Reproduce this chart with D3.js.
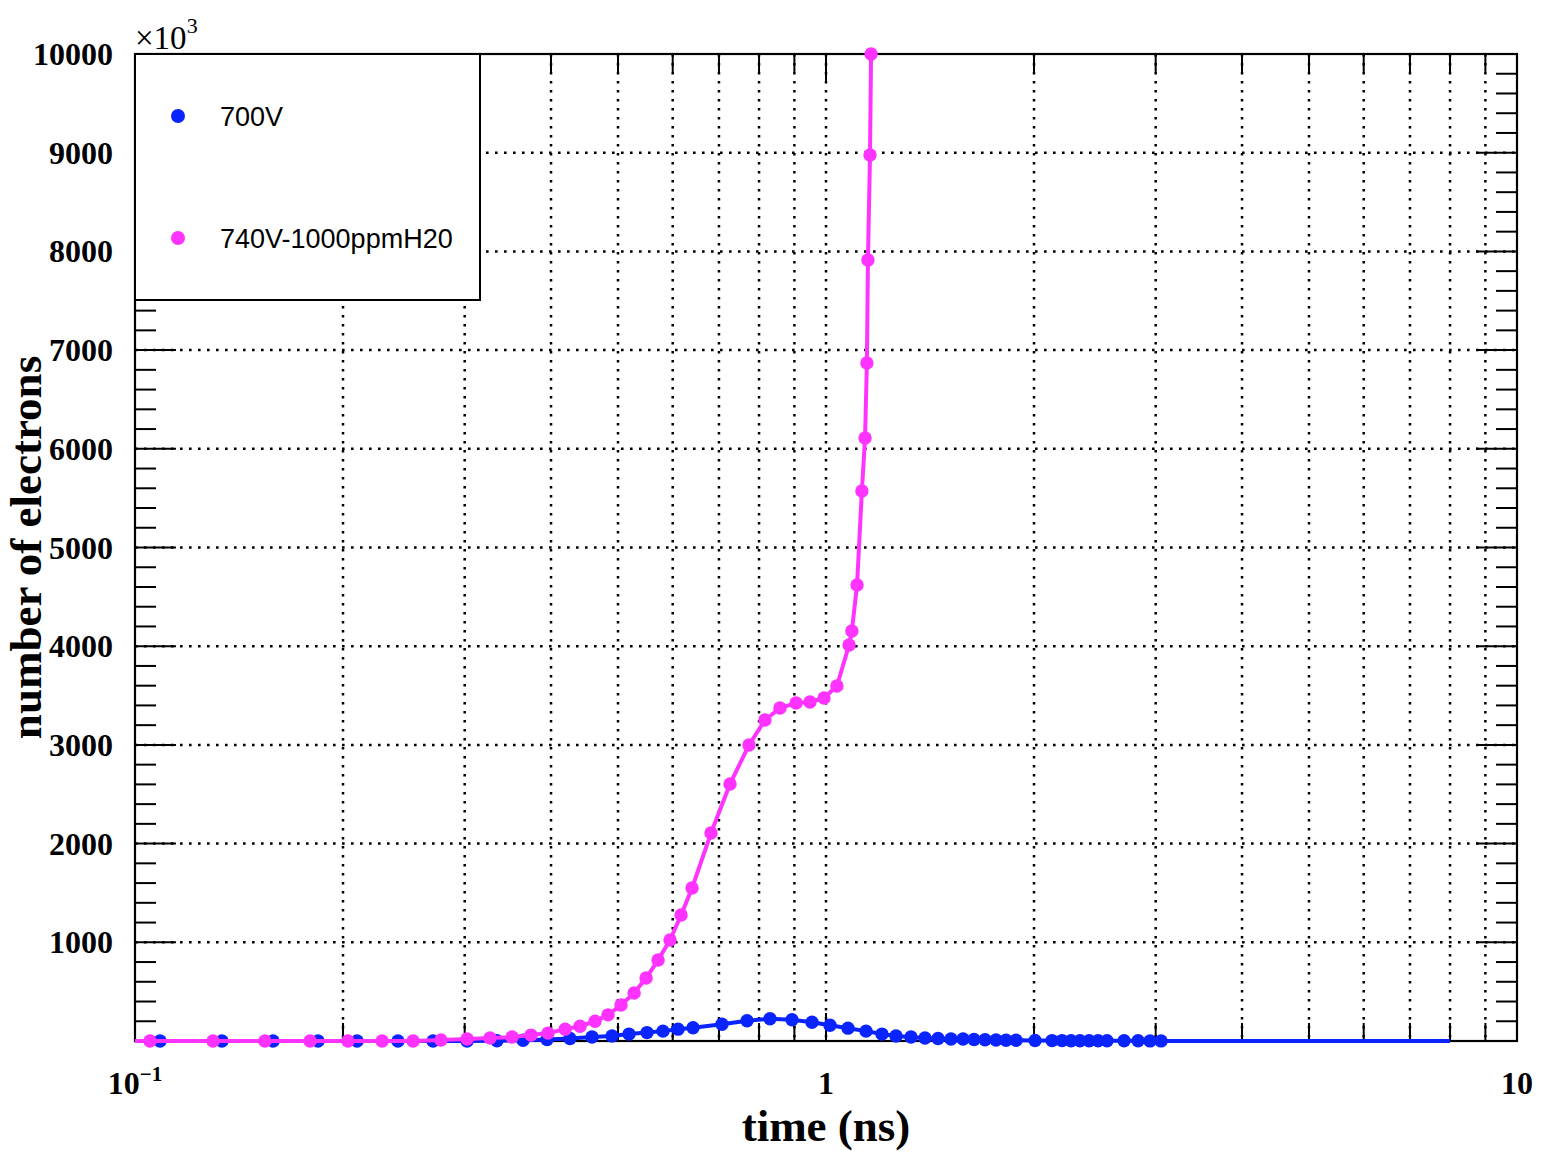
<!DOCTYPE html>
<html>
<head>
<meta charset="utf-8">
<script src="https://cdn.jsdelivr.net/npm/d3@7"></script>
<style>
  body { margin: 0; background: #fff; }
  .tick-label { font-family: "Liberation Serif", serif; font-weight: bold; font-size: 32px; fill: #000; }
  .axis-title { font-family: "Liberation Serif", serif; font-weight: bold; font-size: 45px; fill: #000; }
  .legend-text { font-family: "Liberation Sans", Arial, sans-serif; font-size: 27px; fill: #000; }
  .grid { stroke: #000; stroke-width: 2.5; stroke-dasharray: 2.6 6.4; }
</style>
</head>
<body>
<div class="chart"></div>
<script>
// values, counts in units of 10^3
var blueTime = [0.08, 0.1087, 0.1336, 0.1584, 0.184, 0.2096, 0.2402, 0.27, 0.3024, 0.3341, 0.3644, 0.3947, 0.4261,
    0.4585, 0.4902, 0.5187, 0.5508, 0.5808, 0.6107, 0.6421, 0.7071, 0.7686, 0.8298, 0.8929, 0.9544, 1.0134, 1.076,
    1.1427, 1.205, 1.2627, 1.3274, 1.3908, 1.4525, 1.5168, 1.5788, 1.6377, 1.699, 1.762, 1.822, 1.884, 2.007, 2.124,
    2.196, 2.263, 2.331, 2.403, 2.476, 2.551, 2.7, 2.829, 2.944, 3.054]
var blueCount = [0, 0, 0, 0, 0, 0, 0, 0, 0, 3, 8, 15, 25,
    40, 50, 70, 85, 100, 120, 135, 170, 205, 225, 215, 190, 160, 130,
    100, 70, 50, 40, 30, 25, 20, 20, 15, 12, 10, 8, 7, 5, 4,
    4, 3, 3, 3, 2, 2, 2, 2, 1, 1]
// the blue line runs on past its last marker
var blueTailTime = [8.0]
var blueTailCount = [0]

var pinkTime = [0.08, 0.1051, 0.1297, 0.1542, 0.1792, 0.2033, 0.2278, 0.2526, 0.2772, 0.3024, 0.3264, 0.3513, 0.3742,
    0.396, 0.4193, 0.4406, 0.4632, 0.4836, 0.5051, 0.5276, 0.549, 0.5715, 0.5947, 0.617, 0.64, 0.6817, 0.7263, 0.7737,
    0.816, 0.8578, 0.905, 0.9481, 0.9934, 1.037, 1.08, 1.09, 1.109, 1.127, 1.139, 1.146, 1.15, 1.158, 1.162]
var pinkCount = [0, 0, 0, 0, 0, 0, 0, 0, 10, 20, 30, 40, 60,
    80, 120, 150, 200, 265, 365, 486, 638, 820, 1023, 1277, 1550, 2107, 2604, 2999,
    3252, 3374, 3424, 3435, 3475, 3597, 4012, 4154, 4620, 5572, 6109, 6869, 7913, 8977, 10000]

var seriesNames = ["700V", "740V-1000ppmH20"]
var seriesColors = ["#0a24ff", "#ff33ff"]

var yMajorTicks = [1000, 2000, 3000, 4000, 5000, 6000, 7000, 8000, 9000, 10000]
var xMinorTicks = [0.2, 0.3, 0.4, 0.5, 0.6, 0.7, 0.8, 0.9, 2, 3, 4, 5, 6, 7, 8, 9]
var xMajorTicks = [1]
var xLabelValues = [0.1, 1, 10]
var xLabelBase = ["10", "1", "10"]
var xLabelExp = ["\u22121", "", ""]

var W = 1550, H = 1154
var margin = {top: 54, right: 33, bottom: 113, left: 135}
var width = W - margin.left - margin.right
var height = H - margin.top - margin.bottom

var xScale = d3.scaleLog().domain([0.1, 10]).range([0, width])
var yScale = d3.scaleLinear().domain([0, 10000]).range([height, 0])

var svg = d3.select(".chart")
    .append("svg")
        .attr("width", W)
        .attr("height", H)

svg.append("rect").attr("width", W).attr("height", H).attr("fill", "#fff")

var g = svg.append("g")
    .attr("transform", "translate(" + margin.left + "," + margin.top + ")")

g.append("clipPath").attr("id", "plot-clip")
  .append("rect")
    .attr("x", 0).attr("y", -8)
    .attr("width", width).attr("height", height + 16)

// grid
g.selectAll(".vgrid")
    .data(xMinorTicks.concat(xMajorTicks))
    .enter().append("line")
    .attr("class", "grid")
    .attr("x1", d => xScale(d)).attr("x2", d => xScale(d))
    .attr("y1", 0).attr("y2", height)

g.selectAll(".hgrid")
    .data(yMajorTicks.slice(0, -1))
    .enter().append("line")
    .attr("class", "grid")
    .attr("x1", 0).attr("x2", width)
    .attr("y1", d => yScale(d)).attr("y2", d => yScale(d))

// ticks on all four sides, pointing inward
var yMinor = d3.range(200, 10000, 200).filter(d => d % 1000 != 0)
function drawYTicks(list, len) {
    g.selectAll(null).data(list).enter().append("line")
        .attr("x1", 0).attr("x2", len)
        .attr("y1", d => yScale(d)).attr("y2", d => yScale(d))
        .attr("stroke", "#000").attr("stroke-width", 2)
    g.selectAll(null).data(list).enter().append("line")
        .attr("x1", width).attr("x2", width - len)
        .attr("y1", d => yScale(d)).attr("y2", d => yScale(d))
        .attr("stroke", "#000").attr("stroke-width", 2)
}
drawYTicks(yMajorTicks, 41)
drawYTicks(yMinor, 21)

function drawXTicks(list, len) {
    g.selectAll(null).data(list).enter().append("line")
        .attr("x1", d => xScale(d)).attr("x2", d => xScale(d))
        .attr("y1", height).attr("y2", height - len)
        .attr("stroke", "#000").attr("stroke-width", 2)
    g.selectAll(null).data(list).enter().append("line")
        .attr("x1", d => xScale(d)).attr("x2", d => xScale(d))
        .attr("y1", 0).attr("y2", len)
        .attr("stroke", "#000").attr("stroke-width", 2)
}
drawXTicks(xMinorTicks, 18)
drawXTicks(xMajorTicks, 28)

g.append("rect")
    .attr("width", width).attr("height", height)
    .attr("fill", "none").attr("stroke", "#000").attr("stroke-width", 2.2)

// tick labels
g.selectAll(".ylab")
    .data(yMajorTicks)
    .enter().append("text")
    .attr("class", "tick-label")
    .attr("x", -22)
    .attr("y", d => yScale(d) + 11)
    .attr("text-anchor", "end")
    .text(d => d)

var xl = g.selectAll(".xlab")
    .data(xLabelValues)
    .enter().append("text")
    .attr("class", "tick-label")
    .attr("x", d => xScale(d))
    .attr("y", height + 53)
    .attr("text-anchor", "middle")
xl.append("tspan").text((d, i) => xLabelBase[i])
xl.append("tspan")
    .attr("dy", -13)
    .attr("font-size", 21)
    .text((d, i) => xLabelExp[i])

var mult = g.append("text")
    .attr("x", 0).attr("y", -5)
    .style("font-family", "Liberation Serif, serif")
    .style("font-size", "33px")
mult.append("tspan").text("\u00d710")
mult.append("tspan").attr("dy", -16).attr("font-size", 22).text("3")

// axis titles
g.append("text")
    .attr("class", "axis-title")
    .attr("x", xScale(1))
    .attr("y", height + 100)
    .attr("text-anchor", "middle")
    .text("time (ns)")

g.append("text")
    .attr("class", "axis-title")
    .attr("transform", "translate(" + (41 - margin.left) + "," + (yScale(5000)) + ") rotate(-90)")
    .attr("text-anchor", "middle")
    .text("number of electrons")

// series
function drawSeries(times, counts, tailT, tailC, color) {
    var pts = times.map((t, i) => ({t: t, c: counts[i]}))
    var linePts = pts.concat(tailT.map((t, i) => ({t: t, c: tailC[i]})))
    var line = d3.line().x(d => xScale(d.t)).y(d => yScale(d.c))
    g.append("path")
        .datum(linePts)
        .attr("clip-path", "url(#plot-clip)")
        .attr("d", line)
        .attr("fill", "none")
        .attr("stroke", color)
        .attr("stroke-width", 4)
        .attr("stroke-linejoin", "round")
    g.append("g")
        .attr("clip-path", "url(#plot-clip)")
        .selectAll("circle")
        .data(pts)
        .enter().append("circle")
        .attr("cx", d => xScale(d.t))
        .attr("cy", d => yScale(d.c))
        .attr("r", 6.7)
        .attr("fill", color)
}
drawSeries(blueTime, blueCount, blueTailTime, blueTailCount, seriesColors[0])
drawSeries(pinkTime, pinkCount, [], [], seriesColors[1])

// legend
var legend = g.append("g")
legend.append("rect")
    .attr("x", 0).attr("y", 0)
    .attr("width", 345).attr("height", 246)
    .attr("fill", "#fff").attr("stroke", "#000").attr("stroke-width", 2)
legend.selectAll("circle")
    .data(seriesNames)
    .enter().append("circle")
    .attr("cx", 43)
    .attr("cy", (d, i) => 62 + i * 122)
    .attr("r", 7)
    .attr("fill", (d, i) => seriesColors[i])
legend.selectAll("text")
    .data(seriesNames)
    .enter().append("text")
    .attr("class", "legend-text")
    .attr("x", 85)
    .attr("y", (d, i) => 72 + i * 122)
    .text(d => d)
</script>
</body>
</html>
